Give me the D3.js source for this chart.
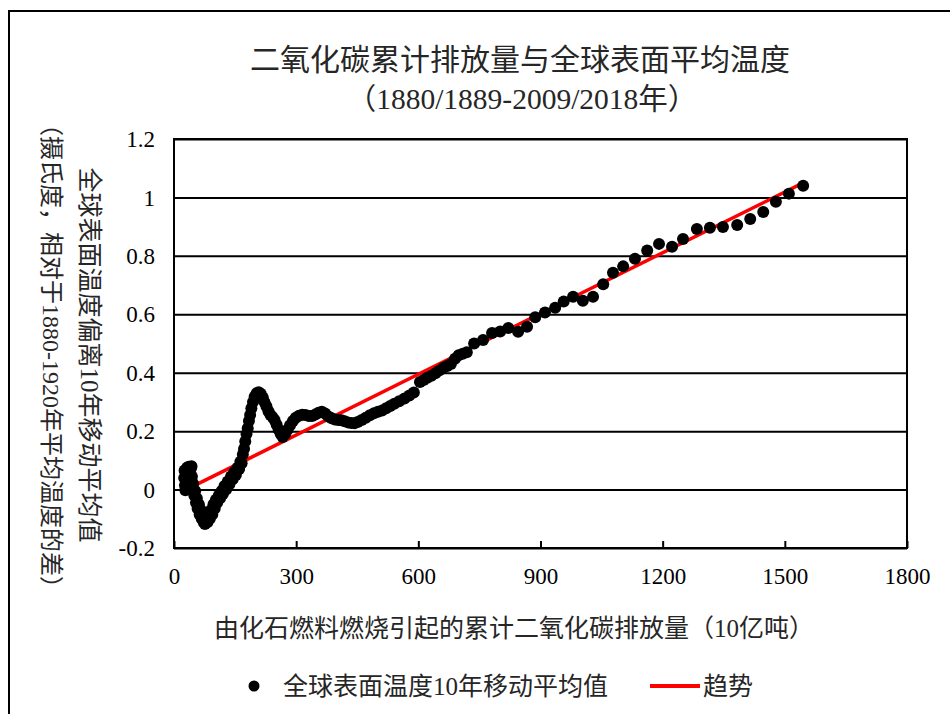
<!DOCTYPE html>
<html><head><meta charset="utf-8">
<script src="https://cdn.jsdelivr.net/npm/d3@7/dist/d3.min.js"></script>
<style>body{margin:0;background:#fff}</style>
</head><body>
<svg id="c" width="950" height="714"></svg>
<script>
// Cumulative fossil CO2 emissions (Gt) — x values
const emissions = [
  25, 26, 27, 28, 30, 32, 34, 36, 38, 40, 41, 43, 44, 46, 47,
  50, 52, 54, 56, 58, 61, 63, 66, 68, 71, 73, 76, 79, 82,
  85, 88, 91, 94, 97, 100, 103, 106, 110, 113, 117, 120, 124, 128, 132, 136, 140, 144, 148, 152, 156, 160, 163, 166,
  169, 172, 175, 178, 181, 184, 187, 190, 194, 198, 203, 208, 213, 218, 222, 227, 232, 237,
  242, 247, 252, 257, 262, 267, 273, 279, 285, 292, 299, 307, 315, 323, 331, 339, 347, 355, 363, 371,
  379, 387, 395, 403, 411, 419, 427, 435, 443, 451, 461, 471, 481, 491, 501, 511, 521, 531, 541, 553,
  566, 578, 589, 604, 613, 622, 632, 642, 652, 662, 671, 680, 690, 699, 709, 719, 737, 759, 781, 801,
  821, 845, 867, 887, 911, 936, 957, 980, 1004, 1029, 1054, 1078, 1103, 1132, 1162, 1191, 1223, 1250, 1284, 1316,
  1348, 1383, 1415, 1447, 1478, 1510, 1545
];
// Global surface temperature, 10-year moving average (°C, vs 1880-1920)
const temperature = [
  0.04, 0.065, 0.015, -0.002, 0.05, 0.075, 0.03, 0.078, 0.06, 0.02, 0.07, 0.08, 0.045, 0.0, 0.02,
  -0.02, -0.005, -0.045, -0.03, -0.065, -0.05, -0.085, -0.07, -0.1, -0.09, -0.112, -0.118, -0.1, -0.112,
  -0.09, -0.1, -0.07, -0.085, -0.05, -0.065, -0.035, -0.045, -0.02, -0.03, -0.005, -0.015, 0.012, 0.0, 0.028, 0.018, 0.045, 0.035, 0.06, 0.05, 0.075, 0.07, 0.095, 0.09,
  0.12, 0.14, 0.165, 0.19, 0.21, 0.235, 0.255, 0.278, 0.3, 0.318, 0.33, 0.333, 0.328, 0.315, 0.3, 0.285, 0.268, 0.255,
  0.248, 0.238, 0.222, 0.205, 0.19, 0.18, 0.19, 0.205, 0.22, 0.235, 0.246, 0.253, 0.256, 0.255, 0.252, 0.252, 0.257, 0.263, 0.266, 0.26,
  0.25, 0.244, 0.24, 0.238, 0.237, 0.234, 0.23, 0.228, 0.227, 0.231, 0.238, 0.246, 0.254, 0.261, 0.266, 0.271, 0.278, 0.286, 0.294, 0.302,
  0.312, 0.322, 0.332, 0.368, 0.375, 0.383, 0.39, 0.398, 0.408, 0.417, 0.423, 0.43, 0.448, 0.46, 0.465, 0.47, 0.5, 0.512, 0.536, 0.541,
  0.553, 0.54, 0.557, 0.59, 0.606, 0.622, 0.644, 0.66, 0.646, 0.66, 0.703, 0.742, 0.764, 0.79, 0.818, 0.841, 0.831, 0.858, 0.892, 0.896,
  0.899, 0.906, 0.926, 0.95, 0.985, 1.013, 1.04
];
// Linear trend
const trendSlope = 0.000693;
const trendIntercept = -0.021;

const xTickValues = [0, 300, 600, 900, 1200, 1500, 1800];
const yTickValues = [-0.2, 0, 0.2, 0.4, 0.6, 0.8, 1, 1.2];
const yTickLabels = ["-0.2", "0", "0.2", "0.4", "0.6", "0.8", "1", "1.2"];

const titleLines = ["二氧化碳累计排放量与全球表面平均温度", "（1880/1889-2009/2018年）"];
const xTitle = "由化石燃料燃烧引起的累计二氧化碳排放量（10亿吨）";
const yTitleLines = ["全球表面温度偏离10年移动平均值", "（摄氏度，相对于1880-1920年平均温度的差）"];
const legendLabels = ["全球表面温度10年移动平均值", "趋势"];

const FONT = "'Liberation Serif','Noto Sans CJK SC',serif";
const svg = d3.select("#c");
const L = 174, R = 907, T = 139, B = 548;
const x = d3.scaleLinear().domain([0, 1800]).range([L, R]);
const y = d3.scaleLinear().domain([-0.2, 1.2]).range([B, T]);

// outer chart frame
svg.append("rect").attr("x", 9).attr("y", 11).attr("width", 1200).attr("height", 1200)
  .attr("fill", "none").attr("stroke", "#000").attr("stroke-width", 2);

// y axis with gridlines
const yAxis = svg.append("g").attr("transform", `translate(${L},0)`)
  .call(d3.axisLeft(y).tickValues(yTickValues).tickSize(-(R - L)).tickPadding(19)
    .tickFormat((d, i) => yTickLabels[i]));
yAxis.select(".domain").remove();
yAxis.selectAll(".tick line").attr("stroke", "#000").attr("stroke-width", 2);
yAxis.selectAll(".tick text").attr("font-family", FONT).attr("font-size", 23).attr("fill", "#000").attr("dy", "0.33em");

// x axis with inward ticks
const xAxis = svg.append("g").attr("transform", `translate(0,${B})`)
  .call(d3.axisBottom(x).tickValues(xTickValues).tickSize(-7).tickPadding(20).tickFormat(d3.format("d")));
xAxis.select(".domain").remove();
xAxis.selectAll(".tick line").attr("stroke", "#000").attr("stroke-width", 2);
xAxis.selectAll(".tick text").attr("font-family", FONT).attr("font-size", 23).attr("fill", "#000");

// plot border
svg.append("rect").attr("x", L).attr("y", T).attr("width", R - L).attr("height", B - T)
  .attr("fill", "none").attr("stroke", "#000").attr("stroke-width", 2);

// trend line
const xMin = d3.min(emissions), xMax = d3.max(emissions);
svg.append("line")
  .attr("x1", x(xMin)).attr("y1", y(trendIntercept + trendSlope * xMin))
  .attr("x2", x(xMax)).attr("y2", y(trendIntercept + trendSlope * xMax))
  .attr("stroke", "#ff0000").attr("stroke-width", 3.5);

// scatter points
svg.append("g").selectAll("circle").data(emissions).join("circle")
  .attr("cx", d => x(d)).attr("cy", (d, i) => y(temperature[i])).attr("r", 6).attr("fill", "#000");

// titles
svg.append("text").attr("x", 520).attr("y", 70).attr("text-anchor", "middle")
  .attr("font-family", FONT).attr("font-size", 30).attr("fill", "#262626").text(titleLines[0]);
svg.append("text").attr("x", 522).attr("y", 109).attr("text-anchor", "middle")
  .attr("font-family", FONT).attr("font-size", 29.5).attr("fill", "#262626").text(titleLines[1]);

// x title
svg.append("text").attr("x", 514).attr("y", 637).attr("text-anchor", "middle")
  .attr("font-family", FONT).attr("font-size", 25).attr("fill", "#262626").text(xTitle);

// y title (rotated clockwise)
svg.append("text").attr("transform", "translate(81,355) rotate(90)").attr("text-anchor", "middle")
  .attr("font-family", FONT).attr("font-size", 25).attr("fill", "#262626").text(yTitleLines[0]);
svg.append("text").attr("transform", "translate(43,356) rotate(90)").attr("text-anchor", "middle")
  .attr("font-family", FONT).attr("font-size", 24).attr("fill", "#262626").text(yTitleLines[1]);

// legend
const lg = svg.append("g");
lg.append("circle").attr("cx", 254).attr("cy", 686).attr("r", 5.5).attr("fill", "#000");
lg.append("text").attr("x", 283).attr("y", 695).attr("font-family", FONT).attr("font-size", 25)
  .attr("fill", "#262626").text(legendLabels[0]);
lg.append("line").attr("x1", 650).attr("x2", 700).attr("y1", 686).attr("y2", 686)
  .attr("stroke", "#ff0000").attr("stroke-width", 4);
lg.append("text").attr("x", 703).attr("y", 695).attr("font-family", FONT).attr("font-size", 25)
  .attr("fill", "#262626").text(legendLabels[1]);
</script>
</body></html>
